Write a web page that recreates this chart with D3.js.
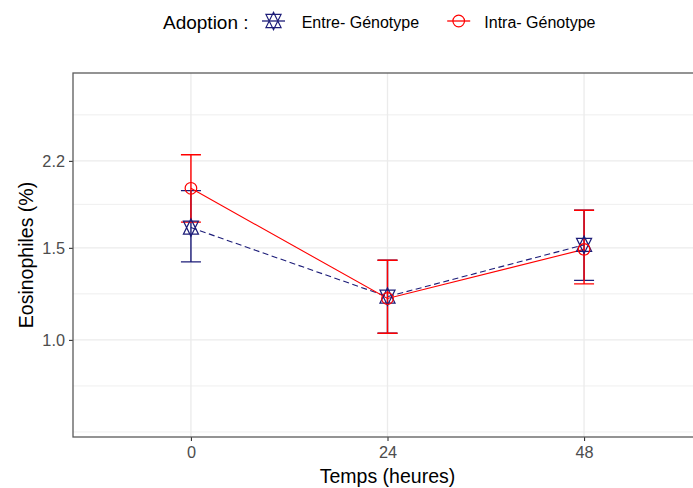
<!DOCTYPE html>
<html>
<head>
<meta charset="utf-8">
<script src="https://cdn.jsdelivr.net/npm/d3@7"></script>
<style>
  html, body { margin: 0; padding: 0; background: #fff; }
  svg { display: block; font-family: "Liberation Sans", Arial, sans-serif; }
</style>
</head>
<body>
<svg id="chart" width="693" height="488"></svg>
<script>
// Eosinophil percentage over time, by adoption group (mean with error bars)
const times = ["0", "24", "48"];

const entreMean = [1.64, 1.21, 1.52];
const entreLow  = [1.41, 1.03, 1.30];
const entreHigh = [1.93, 1.42, 1.77];

const intraMean = [1.95, 1.20, 1.49];
const intraLow  = [1.68, 1.03, 1.28];
const intraHigh = [2.26, 1.42, 1.77];

const yBreaks = [1.0, 1.5, 2.2];
const yLimits = [0.652, 3.24];

const groups = [
  { name: "Entre- Génotype", color: "#1c1c78", dash: "6,3.5", shape: "star",
    mean: entreMean, low: entreLow, high: entreHigh },
  { name: "Intra- Génotype", color: "#ff0000", dash: null, shape: "circle",
    mean: intraMean, low: intraLow, high: intraHigh }
];

const svg = d3.select("#chart");
const panel = { left: 73, top: 73, right: 702, bottom: 437 };

const x = d3.scalePoint().domain(times).range([panel.left, panel.right]).padding(0.6);
const y = d3.scaleLog().domain(yLimits).range([panel.bottom, panel.top]);

// minor breaks: midpoints of the breaks on the log scale, plus one extension step
const lb = yBreaks.map(Math.log);
const stepLog = lb[1] - lb[0];
const ext = [lb[0] - stepLog, ...lb, lb[lb.length - 1] + stepLog];
let minorLog = [];
for (let i = 0; i < ext.length - 1; i++) minorLog.push(ext[i], (ext[i] + ext[i + 1]) / 2);
minorLog.push(ext[ext.length - 1]);
const minorVals = minorLog
  .filter(v => !lb.some(b => Math.abs(b - v) < 1e-9))
  .map(Math.exp)
  .filter(v => v >= yLimits[0] && v <= yLimits[1]);

const grid = svg.append("g");
grid.selectAll(".minor").data(minorVals).join("line")
  .attr("x1", panel.left).attr("x2", panel.right)
  .attr("y1", d => y(d)).attr("y2", d => y(d))
  .attr("stroke", "#ebebeb").attr("stroke-width", 0.8);
grid.selectAll(".majorY").data(yBreaks).join("line")
  .attr("x1", panel.left).attr("x2", panel.right)
  .attr("y1", d => y(d)).attr("y2", d => y(d))
  .attr("stroke", "#ebebeb").attr("stroke-width", 1.3);
grid.selectAll(".majorX").data(times).join("line")
  .attr("x1", d => x(d)).attr("x2", d => x(d))
  .attr("y1", panel.top).attr("y2", panel.bottom)
  .attr("stroke", "#ebebeb").attr("stroke-width", 1.3);

// axes
const fmt = d3.format(".1f");
const yAxis = svg.append("g").attr("transform", `translate(${panel.left},0)`)
  .call(d3.axisLeft(y).tickValues(yBreaks).tickFormat(fmt).tickSize(4).tickPadding(4));
const xAxis = svg.append("g").attr("transform", `translate(0,${panel.bottom})`)
  .call(d3.axisBottom(x).tickSize(4).tickPadding(5));
[yAxis, xAxis].forEach(a => {
  a.select(".domain").remove();
  a.selectAll(".tick line").attr("stroke", "#333333").attr("stroke-width", 1.1);
  a.selectAll(".tick text").attr("fill", "#4d4d4d")
    .style("font-size", "16.3px").style("font-family", "'Liberation Sans', Arial, sans-serif");
});
yAxis.selectAll(".tick text").attr("dy", "0.36em");
xAxis.selectAll(".tick text").attr("dy", "0.75em");

// marks
const marks = svg.append("g");
function starPath(cx, cy, s) {
  const r = 1.5551 * s, yc = 1.1663 * s, xc = 1.3468 * s;
  return `M${cx},${cy - r}L${cx + xc},${cy + yc}L${cx - xc},${cy + yc}Z` +
         `M${cx},${cy + r}L${cx + xc},${cy - yc}L${cx - xc},${cy - yc}Z`;
}
function drawShape(g, shape, cx, cy, color) {
  if (shape === "star") {
    g.append("path").attr("d", starPath(cx, cy, 5.6))
      .attr("fill", "none").attr("stroke", color).attr("stroke-width", 1.2);
  } else {
    g.append("circle").attr("cx", cx).attr("cy", cy).attr("r", 5.8)
      .attr("fill", "none").attr("stroke", color).attr("stroke-width", 1.2);
  }
}

// error bars
groups.forEach(g => {
  const eb = marks.append("g");
  times.forEach((t, i) => {
    const cx = x(t), y0 = y(g.low[i]), y1 = y(g.high[i]);
    eb.append("path")
      .attr("d", `M${cx - 10},${y1}H${cx + 10}M${cx},${y1}V${y0}M${cx - 10},${y0}H${cx + 10}`)
      .attr("fill", "none").attr("stroke", g.color).attr("stroke-width", 1.4);
  });
});
// lines
const line = d3.line().x((d, i) => x(times[i])).y(d => y(d));
groups.forEach(g => {
  marks.append("path").attr("d", line(g.mean))
    .attr("fill", "none").attr("stroke", g.color).attr("stroke-width", 1.1)
    .attr("stroke-dasharray", g.dash);
});
// points
groups.forEach(g => {
  times.forEach((t, i) => drawShape(marks, g.shape, x(t), y(g.mean[i]), g.color));
});

// panel border
svg.append("rect")
  .attr("x", panel.left).attr("y", panel.top)
  .attr("width", panel.right - panel.left).attr("height", panel.bottom - panel.top)
  .attr("fill", "none").attr("stroke", "#5a5a5a").attr("stroke-width", 1.3);

// axis titles
svg.append("text").attr("x", (panel.left + panel.right) / 2).attr("y", 483)
  .attr("text-anchor", "middle").attr("fill", "#000")
  .style("font-size", "19.5px").text("Temps (heures)");
svg.append("text").attr("transform", `translate(33,${(panel.top + panel.bottom) / 2}) rotate(-90)`)
  .attr("text-anchor", "middle").attr("fill", "#000")
  .style("font-size", "19.5px").text("Eosinophiles (%)");

// legend
const legend = svg.append("g");
legend.append("text").attr("x", 163).attr("y", 29).attr("fill", "#000")
  .style("font-size", "19px").text("Adoption :");
const keyX = [273.5, 458.7];
const labelX = [301.7, 484.3];
groups.forEach((g, i) => {
  const k = legend.append("g");
  k.append("line").attr("x1", keyX[i] - 11.5).attr("x2", keyX[i] + 11.5)
    .attr("y1", 21).attr("y2", 21).attr("stroke", g.color).attr("stroke-width", 1.3);
  drawShape(k, g.shape, keyX[i], 21, g.color);
  legend.append("text").attr("x", labelX[i]).attr("y", 27.5).attr("fill", "#000")
    .style("font-size", "16px").text(g.name);
});
</script>
</body>
</html>
